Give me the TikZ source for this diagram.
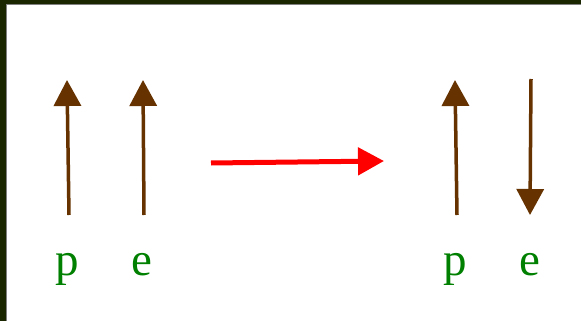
\documentclass[tikz,border=0pt]{standalone}
\usepackage{fontspec}
\setmainfont{Liberation Serif}
\usetikzlibrary{arrows.meta}
\definecolor{frame}{RGB}{26,38,0}
\definecolor{spin}{RGB}{102,51,0}
\definecolor{lbl}{RGB}{0,128,0}
\begin{document}
\begin{tikzpicture}[x=1pt,y=-1pt,
  spinarrow/.style={draw=spin,line width=3.5pt,-{Triangle[width=27pt,length=26pt]},shorten >=-1pt},
  bigarrow/.style={draw=red,line width=5pt,-{Triangle[width=27pt,length=26pt]}},
  lab/.style={text=lbl,font=\fontsize{47}{47}\selectfont,inner sep=0pt,anchor=base}]
\useasboundingbox (0,0) rectangle (581,321);
\fill[frame] (0,0) rectangle (581,321);
\fill[white] (7,5) rectangle (581,321);
\draw[gray,line width=1pt] (6.5,321) -- (6.5,4.5) -- (581,4.5);
% coordinates
\coordinate (p1b) at (69,215); \coordinate (p1t) at (67,81);
\coordinate (e1b) at (144,215); \coordinate (e1t) at (143,81);
\coordinate (p2b) at (457,215); \coordinate (p2t) at (455,81);
\coordinate (e2t) at (531,79); \coordinate (e2b) at (530,214);
\coordinate (rs) at (211,163); \coordinate (re) at (384,161);
\draw[spinarrow] (p1b) -- (p1t);
\draw[spinarrow] (e1b) -- (e1t);
\draw[spinarrow] (p2b) -- (p2t);
\draw[spinarrow] (e2t) -- (e2b);
\draw[bigarrow] (rs) -- (re);
\node[lab] (lp1) at (67,275) {p};
\node[lab] (le1) at (142,275) {e};
\node[lab] (lp2) at (455,275) {p};
\node[lab] (le2) at (530,275) {e};
\end{tikzpicture}
\end{document}
